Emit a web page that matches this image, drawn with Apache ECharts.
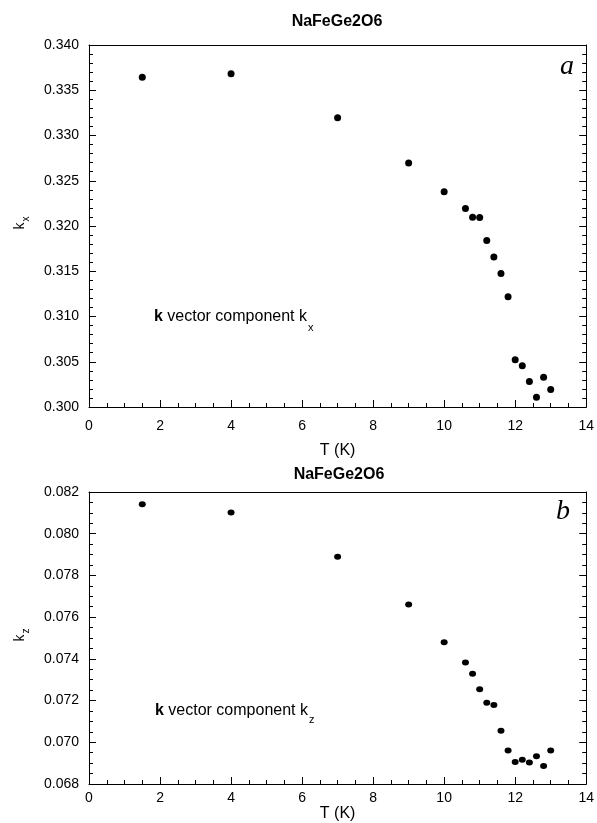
<!DOCTYPE html>
<html>
<head>
<meta charset="utf-8">
<script src="https://cdn.jsdelivr.net/npm/echarts@6/dist/echarts.min.js"></script>
<style>
html,body{margin:0;padding:0;background:#fff;}
#chart{width:597px;height:823px;}
</style>
</head>
<body>
<div id="chart"></div>
<script>
// ---- data ----
const chartTitle = 'NaFeGe2O6';
const xAxisName = 'T (K)';
const tempsA = [1.5, 4, 7, 9, 10, 10.6, 10.8, 11, 11.2, 11.4, 11.6, 11.8, 12, 12.2, 12.4, 12.6, 12.8, 13];
const kxValues = [0.33644, 0.33681, 0.33196, 0.32697, 0.32378, 0.32194, 0.32098, 0.32095, 0.31841, 0.31658, 0.31474, 0.31217, 0.30523, 0.30457, 0.30281, 0.30109, 0.30329, 0.30193];
const tempsB = [1.5, 4, 7, 9, 10, 10.6, 10.8, 11, 11.2, 11.4, 11.6, 11.8, 12, 12.2, 12.4, 12.6, 12.8, 13];
const kzValues = [0.08141, 0.08102, 0.07889, 0.07661, 0.0748, 0.07382, 0.07329, 0.07254, 0.0719, 0.07179, 0.07055, 0.06961, 0.06905, 0.06916, 0.06903, 0.06933, 0.06886, 0.06961];
const xTicks = [0, 2, 4, 6, 8, 10, 12, 14];
const kxTicks = [0.300, 0.305, 0.310, 0.315, 0.320, 0.325, 0.330, 0.335, 0.340];
const kzTicks = [0.068, 0.070, 0.072, 0.074, 0.076, 0.078, 0.080, 0.082];

const FONT = '"Liberation Sans", Arial, Helvetica, sans-serif';
const SERIF = '"Liberation Serif", "DejaVu Serif", serif';
const black = '#000';
const ANN_SIZE = 16;

// measure annotation text width so the subscript follows it
const ctx = document.createElement('canvas').getContext('2d');
ctx.font = 'bold ' + ANN_SIZE + 'px ' + FONT;
const wBold = ctx.measureText('k').width;
ctx.font = ANN_SIZE + 'px ' + FONT;
const wRest = ctx.measureText(' vector component k').width;
const annWidth = wBold + wRest;

const chart = echarts.init(document.getElementById('chart'), null, {renderer: 'canvas'});

function xAxes(gridIndex, labelMargin, nameGap) {
  return [
    {
      type: 'value', gridIndex, position: 'bottom',
      min: xTicks[0], max: xTicks[xTicks.length - 1], interval: 2,
      name: xAxisName, nameLocation: 'middle', nameGap: nameGap,
      nameTextStyle: {fontFamily: FONT, fontSize: 16, color: black},
      axisLine: {show: true, onZero: false, lineStyle: {color: black, width: 1}},
      axisTick: {show: true, inside: true, length: 7, lineStyle: {color: black}},
      minorTick: {show: true, splitNumber: 4, length: 4, lineStyle: {color: black}},
      splitLine: {show: false},
      axisLabel: {fontFamily: FONT, fontSize: 14, color: black, margin: labelMargin}
    },
    {
      type: 'value', gridIndex, position: 'top',
      min: xTicks[0], max: xTicks[xTicks.length - 1], interval: 2,
      axisLine: {show: true, onZero: false, lineStyle: {color: black, width: 1}},
      axisTick: {show: false}, axisLabel: {show: false}, splitLine: {show: false}
    }
  ];
}

function yAxes(gridIndex, ticks, interval, minorSplit) {
  const common = {
    type: 'value', gridIndex,
    min: ticks[0], max: ticks[ticks.length - 1], interval: interval,
    axisLine: {show: true, onZero: false, lineStyle: {color: black, width: 1}},
    axisTick: {show: true, inside: true, length: 7, lineStyle: {color: black}},
    minorTick: {show: true, splitNumber: minorSplit, length: 4, lineStyle: {color: black}},
    splitLine: {show: false}
  };
  return [
    Object.assign({}, common, {
      position: 'left',
      axisLabel: {fontFamily: FONT, fontSize: 14, color: black, margin: 10,
        formatter: v => v.toFixed(3)}
    }),
    Object.assign({}, common, {position: 'right', axisLabel: {show: false}})
  ];
}

const option = {
  backgroundColor: '#fff',
  animation: false,
  grid: [
    {left: 89, right: 10, top: 45, height: 362},
    {left: 89, right: 8, top: 492, height: 292}
  ],
  xAxis: [...xAxes(0, 12, 36), ...xAxes(1, 7, 16)],
  yAxis: [...yAxes(0, kxTicks, 0.005, 5), ...yAxes(1, kzTicks, 0.002, 4)],
  series: [
    {
      type: 'scatter', xAxisIndex: 0, yAxisIndex: 0,
      symbol: 'circle', symbolSize: 7,
      itemStyle: {color: black, opacity: 1},
      data: tempsA.map((t, i) => [t, kxValues[i]])
    },
    {
      type: 'scatter', xAxisIndex: 2, yAxisIndex: 2,
      symbol: 'circle', symbolSize: [7, 6],
      itemStyle: {color: black, opacity: 1},
      data: tempsB.map((t, i) => [t, kzValues[i]])
    }
  ],
  graphic: [
    // titles
    {type: 'text', x: 337, y: 22, style: {text: chartTitle, font: 'bold 16px ' + FONT, fill: black, textAlign: 'center', textVerticalAlign: 'middle'}},
    {type: 'text', x: 339, y: 475, style: {text: chartTitle, font: 'bold 16px ' + FONT, fill: black, textAlign: 'center', textVerticalAlign: 'middle'}},
    // panel letters
    {type: 'text', x: 567, y: 67, style: {text: 'a', font: 'italic 28px ' + SERIF, fill: black, textAlign: 'center', textVerticalAlign: 'middle'}},
    {type: 'text', x: 563, y: 512, style: {text: 'b', font: 'italic 28px ' + SERIF, fill: black, textAlign: 'center', textVerticalAlign: 'middle'}},
    // annotations
    {type: 'text', x: 154, y: 317, style: {text: '{b|k} vector component k', fill: black, fontFamily: FONT, fontSize: ANN_SIZE, textVerticalAlign: 'middle',
      rich: {b: {fontWeight: 'bold', fontFamily: FONT, fontSize: ANN_SIZE}}}},
    {type: 'text', x: 154 + annWidth + 1, y: 328, style: {text: 'x', font: '11px ' + FONT, fill: black, textAlign: 'left', textVerticalAlign: 'middle'}},
    {type: 'text', x: 155, y: 711, style: {text: '{b|k} vector component k', fill: black, fontFamily: FONT, fontSize: ANN_SIZE, textVerticalAlign: 'middle',
      rich: {b: {fontWeight: 'bold', fontFamily: FONT, fontSize: ANN_SIZE}}}},
    {type: 'text', x: 155 + annWidth + 1, y: 720, style: {text: 'z', font: '11px ' + FONT, fill: black, textAlign: 'left', textVerticalAlign: 'middle'}},
    // y axis names (rotated)
    {type: 'group', x: 20, y: 226, rotation: Math.PI / 2, children: [
      {type: 'text', x: 0, y: 0, style: {text: 'k', font: '14px ' + FONT, fill: black, textAlign: 'center', textVerticalAlign: 'middle'}},
      {type: 'text', x: 7, y: 6, style: {text: 'x', font: '10px ' + FONT, fill: black, textAlign: 'center', textVerticalAlign: 'middle'}}
    ]},
    {type: 'group', x: 20, y: 638, rotation: Math.PI / 2, children: [
      {type: 'text', x: 0, y: 0, style: {text: 'k', font: '14px ' + FONT, fill: black, textAlign: 'center', textVerticalAlign: 'middle'}},
      {type: 'text', x: 7, y: 6, style: {text: 'z', font: '10px ' + FONT, fill: black, textAlign: 'center', textVerticalAlign: 'middle'}}
    ]}
  ]
};
chart.setOption(option);
</script>
</body>
</html>
